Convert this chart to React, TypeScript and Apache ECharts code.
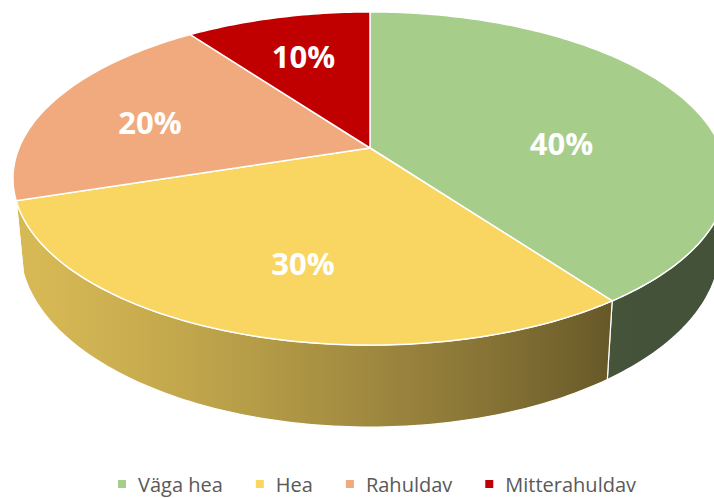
import React, { useEffect, useRef } from 'react';
import * as echarts from 'echarts';

const categories = ['Väga hea', 'Hea', 'Rahuldav', 'Mitterahuldav'];
const shares = [40, 30, 20, 10];
const colors = ['#A7CD8B', '#F9D662', '#F0AA7D', '#C00000'];

// projection of the tilted pie (perspective)
const CX = 370;
const CY = 148;
const R = 351;
const K = 161;
const PERSP = 0.183;
const DEPTH = 67;
const SHRINK = 0.98;
const WALL_FROM = 92;
const WALL_TO = 254;
const LABEL_PUSH = 1.08;

const total = shares.reduce((a, b) => a + b, 0);

function rim(deg: number) {
  const t = (deg * Math.PI) / 180;
  const X = Math.sin(t);
  const Z = Math.cos(t);
  const s = 1 / (1 + PERSP * Z);
  return { x: CX + R * X * s, y: CY - K * Z * s, s };
}
function topPt(deg: number): number[] {
  const r = rim(deg);
  return [r.x, r.y];
}
function botPt(deg: number): number[] {
  const r = rim(deg);
  return [CX + (r.x - CX) * SHRINK, r.y + DEPTH * r.s];
}
function shade(deg: number) {
  const t = (deg * Math.PI) / 180;
  const f = 0.488 - 0.342 * Math.sin(t) - 0.152 * Math.cos(t);
  return Math.max(0.4, Math.min(0.9, f));
}
function mul(hex: string, f: number) {
  const n = parseInt(hex.slice(1), 16);
  const r = Math.round(((n >> 16) & 255) * f);
  const g = Math.round(((n >> 8) & 255) * f);
  const b = Math.round((n & 255) * f);
  return `rgb(${r},${g},${b})`;
}
function startAngle(i: number) {
  let s = 0;
  for (let k = 0; k < i; k++) s += shares[k];
  return (s / total) * 360;
}
function arcPts(a: number, b: number, fn: (d: number) => number[]) {
  const pts: number[][] = [];
  const n = Math.max(2, Math.ceil(b - a));
  for (let k = 0; k <= n; k++) pts.push(fn(a + ((b - a) * k) / n));
  return pts;
}
function centroid(pts: number[][]) {
  let A = 0, gx = 0, gy = 0;
  for (let k = 0; k < pts.length; k++) {
    const [x0, y0] = pts[k];
    const [x1, y1] = pts[(k + 1) % pts.length];
    const c = x0 * y1 - x1 * y0;
    A += c;
    gx += (x0 + x1) * c;
    gy += (y0 + y1) * c;
  }
  A /= 2;
  return [gx / (6 * A), gy / (6 * A)];
}

function wallGradient(color: string) {
  const xL = topPt(260)[0];
  const xR = topPt(100)[0];
  const stops: { offset: number; color: string }[] = [];
  for (let d = 260; d >= 100; d -= 5) {
    const x = topPt(d)[0];
    stops.push({ offset: Math.min(1, Math.max(0, (x - xL) / (xR - xL))), color: mul(color, shade(d)) });
  }
  stops.sort((p, q) => p.offset - q.offset);
  return new echarts.graphic.LinearGradient(xL, 0, xR, 0, stops, true);
}

export default function App() {
  const ref = useRef<HTMLDivElement>(null);
  useEffect(() => {
    if (!ref.current) return;
    const chart = echarts.init(ref.current, null, { renderer: 'svg' });
    const series: any[] = [];
    categories.forEach((name, i) => {
      series.push({
        type: 'custom',
        name,
        coordinateSystem: 'none',
        z: 1,
        silent: true,
        data: [shares[i]],
        itemStyle: { color: colors[i] },
        renderItem: (params: any, api: any) => {
          const a = startAngle(i);
          const b = a + (api.value(0) / total) * 360;
          const lo = Math.max(a, WALL_FROM);
          const hi = Math.min(b, WALL_TO);
          if (hi <= lo) return { type: 'group', children: [] };
          const top = arcPts(lo, hi, topPt);
          const bot = arcPts(lo, hi, botPt).reverse();
          return {
            type: 'polygon',
            shape: { points: top.concat(bot) },
            style: { fill: wallGradient(colors[i]), stroke: '#ffffff', lineWidth: 1.2 },
          };
        },
      });
    });
    categories.forEach((name, i) => {
      series.push({
        type: 'custom',
        name,
        coordinateSystem: 'none',
        z: 2,
        silent: true,
        data: [shares[i]],
        itemStyle: { color: colors[i] },
        renderItem: (params: any, api: any) => {
          const v = api.value(0);
          const a = startAngle(i);
          const b = a + (v / total) * 360;
          const pts = [[CX, CY]].concat(arcPts(a, b, topPt));
          const c = centroid(pts);
          const lx = CX + (c[0] - CX) * LABEL_PUSH;
          const ly = CY + (c[1] - CY) * LABEL_PUSH;
          return {
            type: 'group',
            children: [
              {
                type: 'polygon',
                shape: { points: pts },
                style: { fill: colors[i], stroke: '#ffffff', lineWidth: 1.5 },
              },
              {
                type: 'text',
                x: lx,
                y: ly,
                z2: 10,
                style: {
                  text: `${Math.round((v / total) * 100)}%`,
                  fill: '#ffffff',
                  fontSize: 31,
                  fontWeight: 'bold',
                  fontFamily: 'Open Sans',
                  align: 'center',
                  verticalAlign: 'middle',
                },
              },
            ],
          };
        },
      });
    });
    chart.setOption({
      animation: false,
      backgroundColor: '#ffffff',
      legend: {
        data: categories,
        left: 113,
        top: 469,
        icon: 'rect',
        itemWidth: 8,
        itemHeight: 8,
        itemGap: 33,
        selectedMode: false,
        textStyle: { color: '#595959', fontSize: 20, fontFamily: 'Open Sans', padding: [0, 0, 0, 7] },
      },
      series,
    });
    return () => chart.dispose();
  }, []);
  return <div ref={ref} style={{ position: 'absolute', left: 0, top: 0, width: 714, height: 498 }} />;
}
